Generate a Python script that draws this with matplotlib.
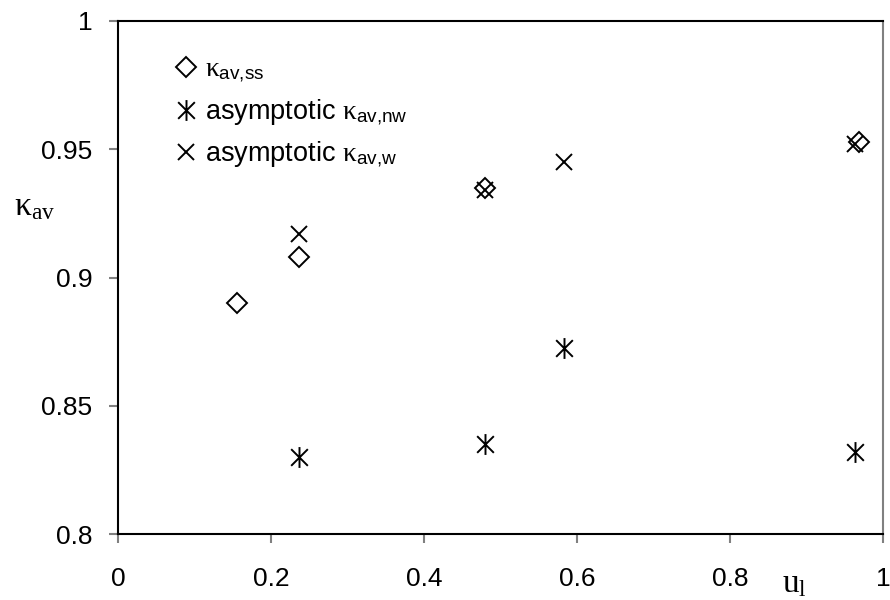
import matplotlib
matplotlib.use("Agg")
import matplotlib.pyplot as plt
from matplotlib.path import Path

plt.rcParams["font.family"] = ["Liberation Sans", "DejaVu Sans"]
plt.rcParams["mathtext.fontset"] = "custom"
plt.rcParams["mathtext.rm"] = "Liberation Serif"
plt.rcParams["mathtext.it"] = "Liberation Serif:italic"
plt.rcParams["mathtext.sf"] = "Liberation Sans"

# steady-state average kappa
u_ss = [0.156, 0.236, 0.480, 0.968]
k_ss = [0.890, 0.908, 0.935, 0.953]

# asymptotic, non-wetting
u_nw = [0.237, 0.480, 0.583, 0.963]
k_nw = [0.830, 0.835, 0.8725, 0.832]

# asymptotic, wetting
u_w = [0.237, 0.480, 0.583, 0.963]
k_w = [0.917, 0.934, 0.945, 0.952]

xticks = [0, 0.2, 0.4, 0.6, 0.8, 1]
xtick_labels = ["0", "0.2", "0.4", "0.6", "0.8", "1"]
yticks = [0.8, 0.85, 0.9, 0.95, 1]
ytick_labels = ["0.8", "0.85", "0.9", "0.95", "1"]

# six-armed asterisk: vertical bar plus an X
star = Path(
    [(0, -1), (0, 1), (-0.8, -0.8), (0.8, 0.8), (-0.8, 0.8), (0.8, -0.8)],
    [Path.MOVETO, Path.LINETO, Path.MOVETO, Path.LINETO, Path.MOVETO, Path.LINETO],
)

fig = plt.figure(figsize=(8.9, 6.0), dpi=100)
ax = fig.add_axes([118 / 890, 66 / 600, 765 / 890, 513 / 600])

ax.plot(u_ss, k_ss, linestyle="none", marker="D", markersize=10,
        markerfacecolor="none", markeredgecolor="black", markeredgewidth=1.4,
        label=r"$\mathrm{\kappa}_{\mathsf{av{,}ss}}$")
ax.plot(u_nw, k_nw, linestyle="none", marker=star, markersize=15,
        markerfacecolor="none", markeredgecolor="black", markeredgewidth=1.4,
        label=r"asymptotic $\mathrm{\kappa}_{\mathsf{av{,}nw}}$")
ax.plot(u_w, k_w, linestyle="none", marker="x", markersize=12,
        markeredgecolor="black", markeredgewidth=1.4,
        label=r"asymptotic $\mathrm{\kappa}_{\mathsf{av{,}w}}$")

ax.set_xlim(0, 1)
ax.set_ylim(0.8, 1)
ax.set_xticks(xticks)
ax.set_xticklabels(xtick_labels)
ax.set_yticks(yticks)
ax.set_yticklabels(ytick_labels)
ax.tick_params(direction="out", length=6.5, width=1.5, color="#808080",
               labelsize=19)
ax.tick_params(axis="x", pad=17)
ax.tick_params(axis="y", pad=12)

for side in ("left", "bottom", "top"):
    ax.spines[side].set_color("black")
    ax.spines[side].set_linewidth(1.5)
ax.spines["right"].set_color("#808080")
ax.spines["right"].set_linewidth(1.5)

fig.text(35 / 890, 1 - 215 / 600, r"$\mathrm{\kappa_{av}}$", fontsize=24,
         ha="center", va="baseline")
fig.text(794 / 890, 1 - 592 / 600, r"$\mathrm{u_l}$", fontsize=24,
         ha="center", va="baseline")

leg = ax.legend(loc="upper left", bbox_to_anchor=(0.0745, 0.93), frameon=False,
                fontsize=19.5, handlelength=0.8, handletextpad=0.3,
                labelspacing=0.45, borderaxespad=0, borderpad=0)

fig.savefig("out.png", dpi=100)
